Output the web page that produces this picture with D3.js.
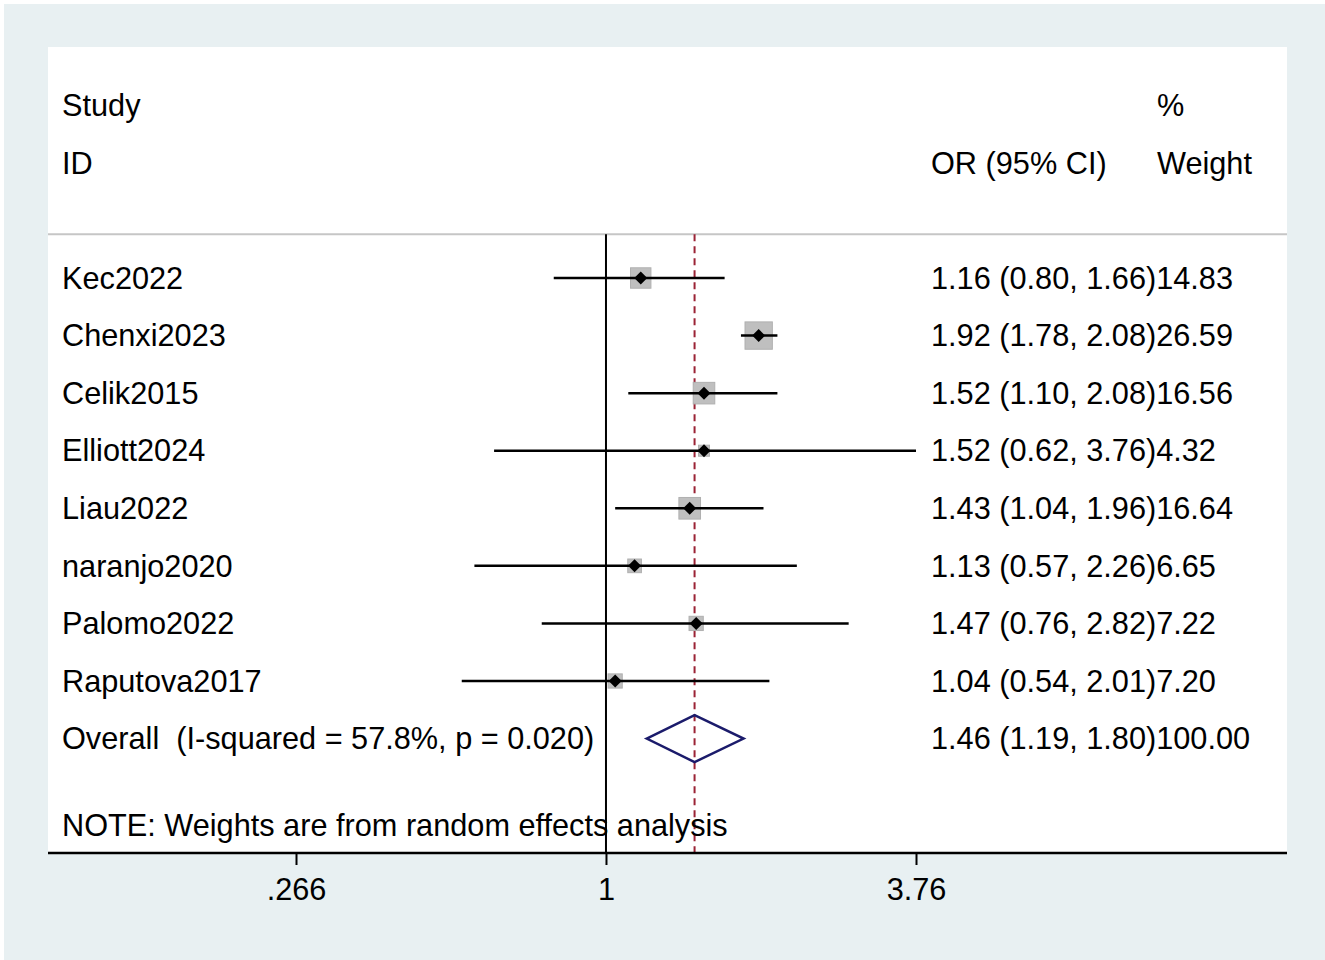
<!DOCTYPE html>
<html lang="en">
<head>
    <meta charset="UTF-8">
    <title>Forest plot</title>
    <script src="https://d3js.org/d3.v7.min.js"></script>
    <style>
        body { margin: 0; background: #fff; }
        svg text {
            font-family: "Liberation Sans", Arial, sans-serif;
            font-size: 30.7px;
            fill: #000;
            white-space: pre;
        }
        .ci { stroke: #000; stroke-width: 2.5px; }
        .box { fill: #bfbfbf; stroke: #b0b0b0; stroke-width: 1px; }
        .pt { fill: #000; }
    </style>
</head>
<body>
    <svg width="1325" height="960"></svg>

    <script>
        // Study data
        const studies = ["Kec2022", "Chenxi2023", "Celik2015", "Elliott2024", "Liau2022",
                         "naranjo2020", "Palomo2022", "Raputova2017"];
        const or = [1.16, 1.92, 1.52, 1.52, 1.43, 1.13, 1.47, 1.04];
        const lower = [0.80, 1.78, 1.10, 0.62, 1.04, 0.57, 0.76, 0.54];
        const upper = [1.66, 2.08, 2.08, 3.76, 1.96, 2.26, 2.82, 2.01];
        const weights = ["14.83", "26.59", "16.56", "4.32", "16.64", "6.65", "7.22", "7.20"];

        const overall = { or: 1.46, lo: 1.19, hi: 1.80, weight: "100.00",
                          label: "Overall  (I-squared = 57.8%, p = 0.020)" };
        const noteText = "NOTE: Weights are from random effects analysis";

        const tickValues = [0.266, 1, 3.76];
        const tickLabels = [".266", "1", "3.76"];

        const svg = d3.select("svg");
        const W = 1325, H = 960;
        const plot = { left: 48, right: 1287, top: 47, bottom: 853 };

        // outer background + white plot region
        svg.append("rect").attr("width", W).attr("height", H).attr("fill", "#fff");
        svg.append("rect").attr("x", 4).attr("y", 4)
            .attr("width", W - 4).attr("height", H - 4).attr("fill", "#e8f0f2");
        svg.append("rect")
            .attr("x", plot.left).attr("y", plot.top)
            .attr("width", plot.right - plot.left).attr("height", plot.bottom - plot.top)
            .attr("fill", "#fff");

        // scales
        const x = d3.scaleLog().domain([0.266, 3.76]).range([296, 916]);
        const row = d3.scaleLinear().domain([0, 1]).range([278, 278 + 57.57]);
        const boxSize = w => 5.3 * Math.sqrt(+w);

        // header
        const g = svg.append("g");
        g.append("text").attr("x", 62).attr("y", row(-3)).attr("dy", ".35em").text("Study");
        g.append("text").attr("x", 62).attr("y", row(-2)).attr("dy", ".35em").text("ID");
        g.append("text").attr("x", 931).attr("y", row(-2)).attr("dy", ".35em").text("OR (95% CI)");
        g.append("text").attr("x", 1157).attr("y", row(-3)).attr("dy", ".35em").text("%");
        g.append("text").attr("x", 1157).attr("y", row(-2)).attr("dy", ".35em").text("Weight");

        g.append("line")
            .attr("x1", plot.left).attr("x2", plot.right)
            .attr("y1", row(-0.76)).attr("y2", row(-0.76))
            .attr("stroke", "#c6c6c6").attr("stroke-width", 2);

        // null line
        g.append("line")
            .attr("x1", x(1)).attr("x2", x(1))
            .attr("y1", row(-0.76)).attr("y2", plot.bottom)
            .attr("stroke", "#000").attr("stroke-width", 2);

        // pooled estimate dashed line
        g.append("line")
            .attr("x1", x(overall.or)).attr("x2", x(overall.or))
            .attr("y1", row(-0.76)).attr("y2", plot.bottom)
            .attr("stroke", "#9b2335").attr("stroke-width", 2)
            .attr("stroke-dasharray", "7,5");

        // study rows
        const rows = g.selectAll("g.row")
            .data(studies)
            .enter().append("g")
            .attr("class", "row")
            .attr("transform", (d, i) => `translate(0,${row(i)})`);

        rows.append("rect")
            .attr("class", "box")
            .attr("x", (d, i) => x(or[i]) - boxSize(weights[i]) / 2)
            .attr("y", (d, i) => -boxSize(weights[i]) / 2)
            .attr("width", (d, i) => boxSize(weights[i]))
            .attr("height", (d, i) => boxSize(weights[i]));

        rows.append("line")
            .attr("class", "ci")
            .attr("x1", (d, i) => x(lower[i]))
            .attr("x2", (d, i) => x(upper[i]));

        rows.append("path")
            .attr("class", "pt")
            .attr("d", (d, i) => {
                const cx = x(or[i]), r = 6.5;
                return `M${cx - r},0L${cx},${-r}L${cx + r},0L${cx},${r}Z`;
            });

        rows.append("text")
            .attr("x", 62).attr("dy", ".35em")
            .text(d => d);

        const rt = rows.append("text").attr("x", 931).attr("dy", ".35em");
        rt.append("tspan").text((d, i) =>
            `${or[i].toFixed(2)} (${lower[i].toFixed(2)}, ${upper[i].toFixed(2)})`);
        rt.append("tspan").text((d, i) => weights[i]);

        // overall row
        const oy = row(studies.length);
        g.append("path")
            .attr("d", `M${x(overall.lo)},${oy}L${x(overall.or)},${oy - 23.5}` +
                       `L${x(overall.hi)},${oy}L${x(overall.or)},${oy + 23.5}Z`)
            .attr("fill", "none").attr("stroke", "#1b1b6b").attr("stroke-width", 2.5);
        g.append("text").attr("x", 62).attr("y", oy).attr("dy", ".35em").text(overall.label);
        const ot = g.append("text").attr("x", 931).attr("y", oy).attr("dy", ".35em");
        ot.append("tspan").text(`${overall.or.toFixed(2)} (${overall.lo.toFixed(2)}, ${overall.hi.toFixed(2)})`);
        ot.append("tspan").text(overall.weight);

        g.append("text").attr("x", 62).attr("y", row(studies.length + 1.5)).attr("dy", ".35em")
            .text(noteText);

        // x axis
        const axis = d3.axisBottom(x)
            .tickValues(tickValues)
            .tickFormat((d, i) => tickLabels[i])
            .tickSize(12)
            .tickPadding(13)
            .tickSizeOuter(0);

        const ax = svg.append("g")
            .attr("transform", `translate(0,${plot.bottom})`)
            .call(axis);
        ax.select(".domain").remove();
        ax.append("line")
            .attr("x1", plot.left).attr("x2", plot.right)
            .attr("stroke", "#000").attr("stroke-width", 2.5);
        ax.selectAll(".tick line").attr("stroke", "#000").attr("stroke-width", 2);
        ax.selectAll(".tick text")
            .attr("font-size", null)
            .attr("font-family", null)
            .style("font-size", "30.7px")
            .attr("fill", "#000");
    </script>
</body>
</html>
